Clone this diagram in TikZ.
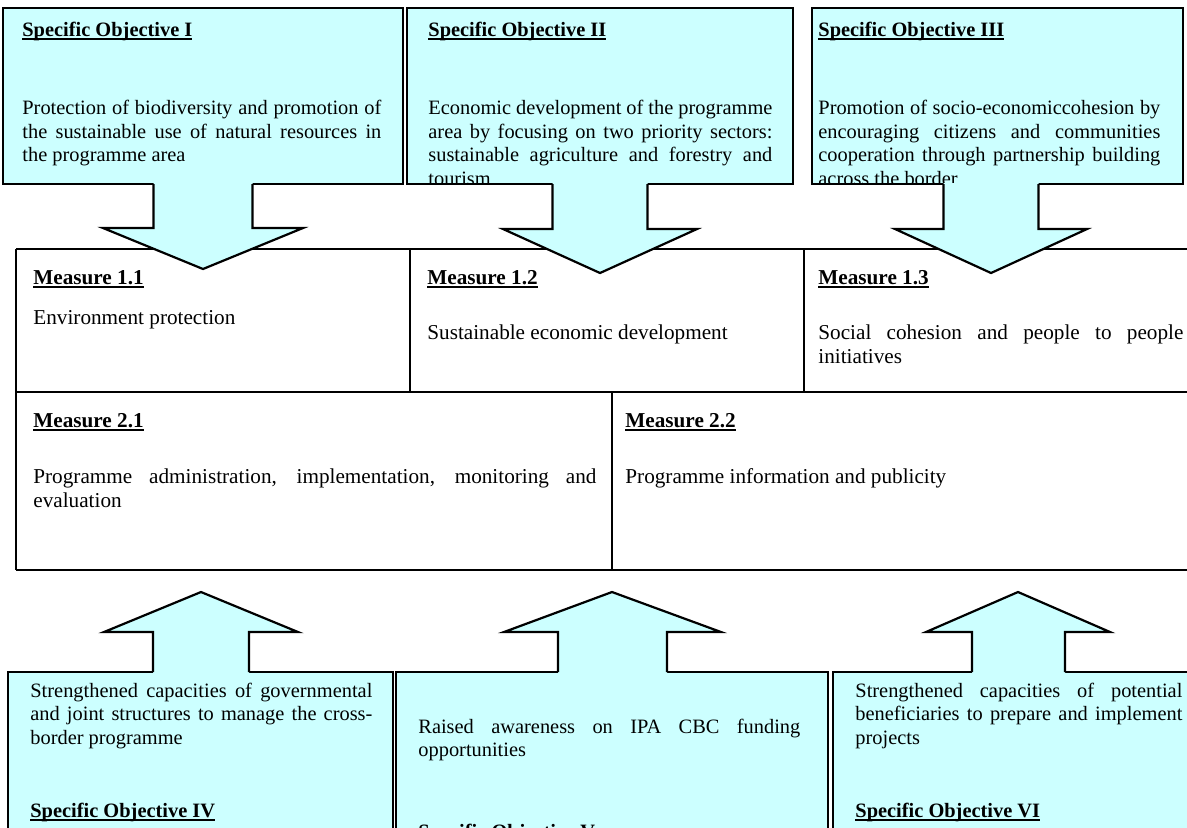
\documentclass[tikz,border=0pt]{standalone}
\usepackage{fontspec}
\setmainfont{Liberation Serif}
\definecolor{objfill}{HTML}{CCFFFF}
\newcommand{\objtextfont}{\fontsize{10.2}{11.75}\selectfont\tolerance=10000\hyphenpenalty=10000\relax}
\newcommand{\tabletextfont}{\fontsize{10.6}{12.2}\selectfont\tolerance=10000\hyphenpenalty=10000\relax}
\newcommand{\objul}[1]{\setbox0\hbox{#1}\rlap{\rule[-1.8pt]{\wd0}{0.8pt}}\box0}

\begin{document}
\begin{tikzpicture}[x=0.5pt, y=-0.5pt,
    objbox/.style={draw=black, fill=objfill, line width=1.1pt},
    blockfill/.style={fill=objfill},
    blockline/.style={draw=black, line width=1.1pt, line join=miter},
    gridline/.style={draw=black, line width=1.1pt},
    headtext/.style={anchor=base west, inner sep=0pt, font=\objtextfont\bfseries},
    bodytext/.style={anchor=north west, inner sep=0pt, align=justify, font=\objtextfont},
    tablehead/.style={headtext, font=\tabletextfont\bfseries},
    tablebody/.style={bodytext, font=\tabletextfont}
    ]
    \useasboundingbox (0,0) rectangle (1187,827);

    % measures table
    \draw[gridline] (16,249) -- (1192,249);
    \draw[gridline] (16,392) -- (1192,392);
    \draw[gridline] (16,570) -- (1192,570);
    \draw[gridline] (16,249) -- (16,570);
    \draw[gridline] (410,249) -- (410,392);
    \draw[gridline] (804,249) -- (804,392);
    \draw[gridline] (612,392) -- (612,570);

    % objective boxes
    \draw[objbox] (3,8) rectangle (403,184);
    \draw[objbox] (407,8) rectangle (793,184);
    \draw[objbox] (812,8) rectangle (1183,184);
    \draw[objbox] (8,672) rectangle (393,845);
    \draw[objbox] (396,672) rectangle (828,845);
    \draw[objbox] (833,672) rectangle (1195,845);

    % arrows down
    \fill[blockfill] (153.5,181) -- (153.5,228) -- (103,228) -- (203,269) -- (303,228) -- (252.5,228) -- (252.5,181) -- cycle;
    \draw[blockline] (153.5,184) -- (153.5,228) -- (103,228) -- (203,269) -- (303,228) -- (252.5,228) -- (252.5,184);
    \fill[blockfill] (552.5,181) -- (552.5,229) -- (503,229) -- (600,273) -- (697,229) -- (647.5,229) -- (647.5,181) -- cycle;
    \draw[blockline] (552.5,184) -- (552.5,229) -- (503,229) -- (600,273) -- (697,229) -- (647.5,229) -- (647.5,184);
    \fill[blockfill] (943.5,181) -- (943.5,229) -- (895,229) -- (991,273) -- (1087,229) -- (1038.5,229) -- (1038.5,181) -- cycle;
    \draw[blockline] (943.5,184) -- (943.5,229) -- (895,229) -- (991,273) -- (1087,229) -- (1038.5,229) -- (1038.5,184);

    % arrows up
    \fill[blockfill] (153,675) -- (153,632) -- (104,632) -- (201,592) -- (298,632) -- (249,632) -- (249,675) -- cycle;
    \draw[blockline] (153,672) -- (153,632) -- (104,632) -- (201,592) -- (298,632) -- (249,632) -- (249,672);
    \fill[blockfill] (558,675) -- (558,632) -- (504,632) -- (612,592) -- (721,632) -- (667,632) -- (667,675) -- cycle;
    \draw[blockline] (558,672) -- (558,632) -- (504,632) -- (612,592) -- (721,632) -- (667,632) -- (667,672);
    \fill[blockfill] (972,675) -- (972,632) -- (926,632) -- (1018,592) -- (1110,632) -- (1065,632) -- (1065,675) -- cycle;
    \draw[blockline] (972,672) -- (972,632) -- (926,632) -- (1018,592) -- (1110,632) -- (1065,632) -- (1065,672);

    % top objectives
    \node[headtext] (titleI) at (22,36) {\objul{Specific Objective I}};
    \node[headtext] (titleII) at (428,36) {\objul{Specific Objective II}};
    \node[headtext] (titleIII) at (818,36) {\objul{Specific Objective III}};
    \node[bodytext, text width=179.5pt] (textI) at (22,98) {\strut Protection of biodiversity and promotion of\linebreak the sustainable use of natural resources in\linebreak the programme area};
    \begin{scope}
      \clip (407,8) rectangle (793,182.5);
      \node[bodytext, text width=172pt] (textII) at (428,98) {\strut Economic development of the programme\linebreak area by focusing on two priority sectors:\linebreak sustainable agriculture and forestry and\linebreak tourism};
    \end{scope}
    \begin{scope}
      \clip (812,8) rectangle (1183,182.5);
      \node[bodytext, text width=171pt] (textIII) at (818,98) {\strut Promotion of socio-economiccohesion by\linebreak encouraging citizens and communities\linebreak cooperation through partnership building\linebreak across the border};
    \end{scope}

    % measures
    \node[tablehead] (m11) at (33,284) {\objul{Measure 1.1}};
    \node[tablebody, text width=180pt] (m11text) at (33,307) {\strut Environment protection};
    \node[tablehead] (m12) at (427,284) {\objul{Measure 1.2}};
    \node[tablebody, text width=180pt] (m12text) at (427,322) {\strut Sustainable economic development};
    \node[tablehead] (m13) at (818,284) {\objul{Measure 1.3}};
    \node[tablebody, text width=182.5pt] (m13text) at (818,322) {\strut Social cohesion and people to people\linebreak initiatives};
    \node[tablehead] (m21) at (33,427) {\objul{Measure 2.1}};
    \node[tablebody, text width=281.5pt] (m21text) at (33,466) {\strut Programme administration, implementation, monitoring and\linebreak evaluation};
    \node[tablehead] (m22) at (625,427) {\objul{Measure 2.2}};
    \node[tablebody, text width=250pt] (m22text) at (625,466) {\strut Programme information and publicity};

    % bottom objectives
    \node[bodytext, text width=171pt] (textIV) at (30,680.5) {\strut Strengthened capacities of governmental\linebreak and joint structures to manage the cross-\linebreak border programme};
    \node[headtext] (titleIV) at (30,817) {\objul{Specific Objective IV}};
    \node[bodytext, text width=191pt] (textV) at (418,716.5) {\strut Raised awareness on IPA CBC funding\linebreak opportunities};
    \node[headtext] (titleV) at (418,838) {\objul{Specific Objective V}};
    \node[bodytext, text width=163.5pt] (textVI) at (855,680.5) {\strut Strengthened capacities of potential\linebreak beneficiaries to prepare and implement\linebreak projects};
    \node[headtext] (titleVI) at (855,817) {\objul{Specific Objective VI}};
\end{tikzpicture}
\end{document}
